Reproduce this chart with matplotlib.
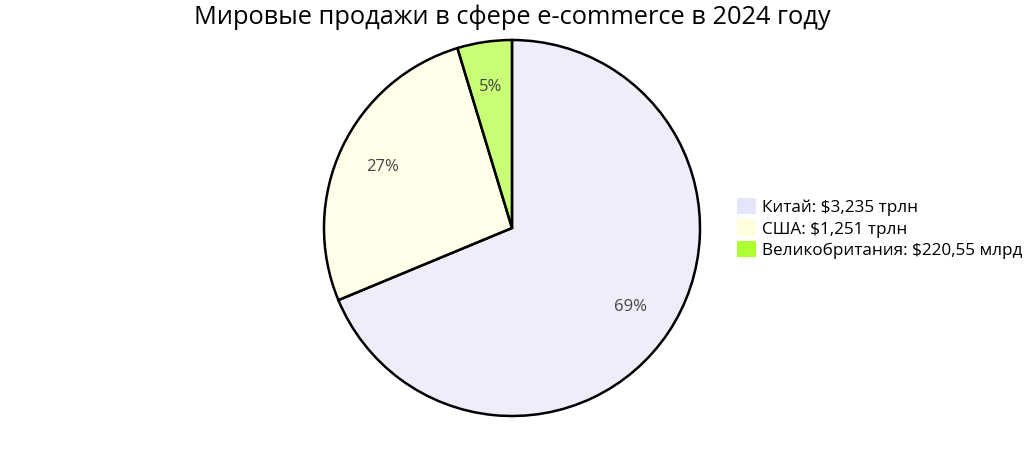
import matplotlib.pyplot as plt
from matplotlib.colors import to_rgba
from matplotlib.patches import Patch

plt.rcParams['font.family'] = ['Open Sans', 'DejaVu Sans']

labels = ['Китай: $3,235 трлн', 'США: $1,251 трлн', 'Великобритания: $220,55 млрд']
values = [3235, 1251, 220.55]
colors = ['#e6e6fa', '#ffffe0', '#adff2f']

fig = plt.figure(figsize=(10.24, 4.57), dpi=100)
ax = fig.add_axes([324 / 1024, 41 / 457, 376 / 1024, 376 / 457])

wedges, texts, autotexts = ax.pie(
    values, colors=[to_rgba(c, 0.65) for c in colors], startangle=90,
    counterclock=False, autopct='%1.0f%%', pctdistance=0.76,
    wedgeprops=dict(edgecolor='black', linewidth=1.8),
    textprops=dict(color='#444444', fontsize=12))
ax.set_xlim(-1.0, 1.0)
ax.set_ylim(-1.0, 1.0)
ax.set_aspect('equal')

fig.suptitle('Мировые продажи в сфере e-commerce в 2024 году', fontsize=18.3, y=0.99)

handles = [Patch(facecolor=c, edgecolor='none') for c in colors]
fig.legend(handles, labels, loc='center left', bbox_to_anchor=(0.708, 0.5),
           frameon=False, fontsize=12.3, handlelength=1.1, handleheight=1.1,
           handletextpad=0.35, labelspacing=0.2, borderpad=0.2)

fig.savefig('out.png', dpi=100)
